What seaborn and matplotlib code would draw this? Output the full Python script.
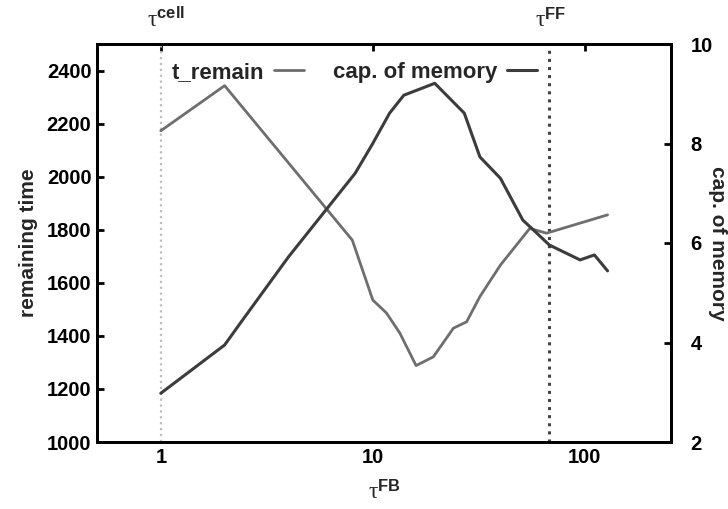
import matplotlib
matplotlib.use("Agg")
import matplotlib.pyplot as plt
import pandas as pd
import seaborn as sns
from matplotlib.ticker import FixedLocator, NullLocator, FixedFormatter

# remaining time versus tau^FB
tau_fb_remain = [1, 2, 8, 10, 11.6, 13.4, 16, 19.3, 24, 27.7, 32, 40, 55, 66, 128]
t_remain = [2173, 2343, 1761, 1535, 1486, 1411, 1288, 1321, 1429, 1453, 1548, 1667, 1805, 1787, 1856]

# capacity of memory versus tau^FB
tau_fb_cap = [1, 2, 2.4, 4, 8.25, 9.9, 12, 14, 19.6, 27, 32, 40, 51, 56, 68, 95, 111, 128]
cap_memory = [2.98, 3.95, 4.42, 5.72, 7.40, 7.97, 8.61, 8.97, 9.21, 8.61, 7.73, 7.30,
              6.46, 6.30, 5.96, 5.66, 5.76, 5.44]

tau_cell = 1
tau_ff = 68

x_ticks = [1, 10, 100]
x_ticklabels = ["1", "10", "100"]
left_ticks = [1000, 1200, 1400, 1600, 1800, 2000, 2200, 2400]
right_ticks = [2, 4, 6, 8, 10]

sns.set_theme(style="white")
plt.rcParams["font.family"] = ["Liberation Sans", "DejaVu Sans"]
plt.rcParams["mathtext.fontset"] = "custom"
plt.rcParams["mathtext.rm"] = "Liberation Serif"
plt.rcParams["mathtext.it"] = "Liberation Serif:italic"
plt.rcParams["mathtext.bf"] = "Liberation Sans:bold"

df_remain = pd.DataFrame({"tau": tau_fb_remain, "value": t_remain})
df_cap = pd.DataFrame({"tau": tau_fb_cap, "value": cap_memory})

fig = plt.figure(figsize=(7.28, 5.09), dpi=100)
ax = fig.add_axes([97 / 728, 1 - 442 / 509, 574 / 728, 398 / 509])
ax2 = ax.twinx()

c_remain = "#6e6e6e"
c_cap = "#3c3c3c"

sns.lineplot(data=df_remain, x="tau", y="value", ax=ax, color=c_remain, lw=2.0,
             sort=False, estimator=None, label="t_remain", legend=False)
sns.lineplot(data=df_cap, x="tau", y="value", ax=ax2, color=c_cap, lw=2.2,
             sort=False, estimator=None, label="cap. of memory", legend=False)

ax.axvline(tau_cell, color="#bdbdbd", ls=":", lw=1.6, zorder=1)
ax.axvline(tau_ff, color="#444444", ls=":", lw=2.2, zorder=1)

ax.set_xscale("log")
ax.set_xlim(0.5, 255)
ax.set_ylim(1000, 2500)
ax2.set_ylim(2, 10)

ax.xaxis.set_major_locator(FixedLocator(x_ticks))
ax.xaxis.set_major_formatter(FixedFormatter(x_ticklabels))
ax.xaxis.set_minor_locator(NullLocator())
ax.yaxis.set_major_locator(FixedLocator(left_ticks))
ax2.yaxis.set_major_locator(FixedLocator(right_ticks))

for a in (ax, ax2):
    for s in a.spines.values():
        s.set_linewidth(2.0)
        s.set_color("black")

ax.tick_params(axis="both", which="major", direction="in", length=5, width=2,
               labelsize=14.5, pad=4, colors="black", top=True, right=False)
ax2.tick_params(axis="y", which="major", direction="in", length=5, width=2,
                labelsize=14.5, pad=14, colors="black")
for lab in ax.get_xticklabels() + ax.get_yticklabels() + ax2.get_yticklabels():
    lab.set_fontweight("bold")

ax.set_ylabel("remaining time", fontsize=15, fontweight="bold", labelpad=6)
ax2.set_ylabel("cap. of memory", fontsize=15, fontweight="bold", rotation=270, labelpad=10)
ax.set_xlabel(r"$\mathrm{\tau}^{\mathbf{FB}}$", fontsize=17, labelpad=10)

for xv, txt in [(tau_cell, r"$\mathrm{\tau}^{\mathbf{cell}}$"),
                (tau_ff, r"$\mathrm{\tau}^{\mathbf{FF}}$")]:
    ax.annotate(txt, xy=(xv, 1.0), xycoords=("data", "axes fraction"),
                xytext=(-10, 12), textcoords="offset points",
                ha="left", va="baseline", fontsize=17, annotation_clip=False)

handles = ax.get_lines()[:1] + ax2.get_lines()[:1]
leg = ax2.legend(handles, ["t_remain", "cap. of memory"], ncol=2, markerfirst=False,
                 frameon=False, loc="upper left", bbox_to_anchor=(0.13, 0.955),
                 borderaxespad=0, borderpad=0, handlelength=1.35, handletextpad=0.45,
                 columnspacing=1.3, prop={"weight": "bold", "size": 16})

fig.savefig("out.png", dpi=100, facecolor="white")
